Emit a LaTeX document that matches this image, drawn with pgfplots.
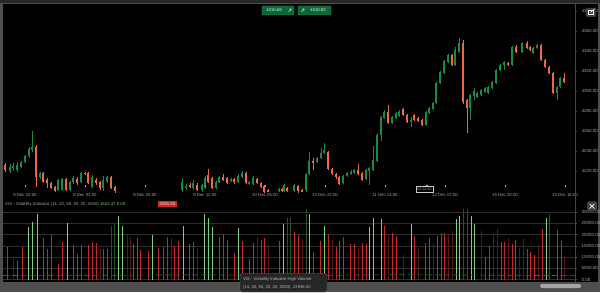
\documentclass[border=0pt]{standalone}
\usepackage{fontspec}
\setmainfont{Liberation Sans}
\usepackage{pgfplots}
\usepackage{pgfplotstable}
\pgfplotsset{compat=1.18}
\definecolor{frame}{RGB}{78,78,78}
\definecolor{axgray}{RGB}{70,70,70}
\definecolor{lbl}{RGB}{165,165,165}
\definecolor{cgreen}{RGB}{24,138,72}
\definecolor{corange}{RGB}{240,105,62}
\definecolor{vgreen}{RGB}{125,208,125}
\definecolor{vdkgreen}{RGB}{38,84,38}
\definecolor{vred}{RGB}{196,42,42}
\definecolor{vdkred}{RGB}{88,24,24}
\definecolor{btn}{RGB}{12,102,56}
\definecolor{btnb}{RGB}{34,140,82}
\definecolor{gridc}{RGB}{46,46,46}

\pgfplotstableread{
x o h l c
10 4220 4227 4218 4224
13 4224 4228 4220 4225
17 4221 4229 4219 4226
21 4224 4230 4223 4229
25 4229 4236 4228 4235
29 4235 4244 4233 4242
32 4241 4260 4239 4244
40 4214 4219 4212 4218
58 4201 4212 4200 4211
62 4201 4213 4200 4212
70 4201 4210 4200 4209
73 4209 4215 4207 4213
81 4209 4219 4208 4218
92 4204 4216 4203 4214
103 4203 4215 4200 4211
107 4209 4215 4208 4214
182 4201 4213 4199 4209
186 4203 4207 4201 4205
193 4203 4211 4201 4208
202 4201 4207 4199 4206
205 4203 4215 4202 4213
216 4203 4210 4202 4209
219 4209 4215 4208 4214
231 4210 4213 4209 4212
238 4209 4217 4208 4215
242 4214 4220 4213 4218
249 4207 4210 4206 4209
253 4207 4215 4206 4213
279 4200 4203 4199 4202
284 4200 4207 4199 4206
294 4200 4207 4199 4206
306 4201 4218 4199 4217
309 4217 4239 4216 4230
317 4229 4234 4228 4233
321 4233 4243 4232 4238
324 4238 4248 4237 4241
343 4208 4216 4207 4215
347 4215 4219 4214 4218
351 4217 4221 4216 4219
354 4218 4222 4217 4221
366 4212 4222 4211 4221
369 4220 4224 4206 4223
373 4221 4245 4220 4231
377 4230 4258 4229 4256
381 4256 4275 4250 4274
384 4273 4281 4272 4279
392 4268 4275 4267 4274
396 4273 4279 4272 4278
399 4275 4281 4274 4279
411 4269 4274 4264 4271
426 4266 4280 4265 4279
429 4278 4284 4277 4283
433 4282 4289 4281 4288
436 4288 4309 4287 4308
440 4308 4320 4307 4319
444 4318 4331 4317 4330
448 4329 4337 4328 4336
455 4326 4344 4325 4341
459 4339 4353 4338 4348
470 4283 4297 4271 4296
474 4295 4303 4291 4300
477 4294 4299 4293 4298
481 4296 4302 4295 4301
485 4299 4304 4298 4303
488 4298 4305 4297 4304
492 4303 4310 4302 4309
496 4308 4322 4307 4321
500 4321 4327 4320 4326
504 4326 4330 4321 4329
512 4326 4345 4325 4344
522 4339 4349 4338 4348
533 4338 4344 4337 4343
537 4343 4347 4342 4346
557 4298 4305 4291 4304
560 4304 4314 4303 4313
}\bull

\pgfplotstableread{
x o h l c
5 4226 4228 4219 4221
36 4244 4246 4204 4214
43 4218 4219 4208 4209
47 4211 4213 4203 4208
51 4208 4209 4202 4203
55 4204 4205 4199 4200
66 4212 4213 4200 4201
77 4212 4214 4206 4208
85 4218 4219 4216 4217
88 4218 4219 4207 4208
96 4211 4213 4206 4208
100 4209 4210 4201 4203
111 4214 4215 4202 4203
115 4204 4205 4198 4200
190 4206 4208 4203 4204
197 4206 4208 4200 4201
208 4216 4222 4208 4209
212 4213 4214 4202 4203
223 4214 4217 4210 4211
227 4213 4214 4207 4208
234 4212 4213 4207 4209
246 4218 4219 4207 4208
257 4212 4213 4207 4208
261 4208 4209 4203 4204
264 4205 4206 4198 4199
268 4201 4202 4199 4200
282 4202 4203 4199 4200
287 4203 4204 4199 4200
298 4205 4206 4198 4200
302 4201 4202 4199 4200
313 4230 4233 4221 4228
328 4239 4240 4221 4222
332 4222 4223 4216 4217
336 4217 4218 4212 4214
339 4214 4215 4206 4207
358 4221 4227 4216 4217
362 4218 4219 4210 4211
388 4279 4286 4267 4268
403 4282 4283 4275 4276
407 4276 4277 4268 4269
414 4276 4277 4270 4271
418 4273 4274 4269 4270
422 4271 4272 4265 4266
452 4336 4337 4325 4326
463 4348 4351 4287 4289
467 4291 4292 4258 4283
508 4328 4329 4325 4326
516 4344 4346 4338 4339
527 4348 4350 4342 4343
530 4344 4345 4340 4341
541 4346 4347 4330 4331
545 4331 4332 4323 4324
549 4324 4325 4317 4318
553 4318 4319 4297 4298
564 4313 4318 4308 4309
}\bear

\pgfplotstableread{
x v
7 14300
17 8250
22 14300
43 18300
47 13400
51 19600
58 6800
62 16800
73 15350
77 11500
81 15350
88 15200
92 16800
96 16100
103 13700
107 13700
133 15900
137 18300
140 13000
148 12700
158 14160
163 14450
167 19000
174 14900
178 17100
189 15600
193 16800
219 18900
223 20350
227 17400
234 11950
242 17100
249 9000
253 16370
261 17400
264 18600
279 17100
294 21240
298 20000
313 12400
320 17100
328 20350
336 14450
339 17100
343 18900
350 15600
354 15600
362 16370
366 15600
384 23750
392 20800
396 19300
414 19300
425 16370
429 18600
437 19300
441 20800
444 20800
485 10000
489 14900
501 16800
504 16800
512 15900
515 17400
527 13400
530 12400
534 10900
542 22250
557 22000
561 17100
}\vredt

\pgfplotstableread{
x v
13 9300
100 13400
127 20000
130 18900
171 18600
197 14160
257 18900
268 15200
302 17850
332 17400
358 14160
388 20000
403 10900
418 14900
433 16370
448 20000
452 21500
481 21500
493 20000
497 22250
508 18600
519 14160
523 17850
538 15350
564 9735
}\vdkredt

\pgfplotstableread{
x v
28 23450
32 25660
37 28900
67 25200
118 28200
122 23750
152 20000
183 23750
204 29300
208 27400
212 23450
238 23000
283 24500
309 29300
324 23750
369 23300
373 27400
381 26700
411 24780
456 26700
459 28200
471 28200
474 24780
546 27100
}\vgreent

\pgfplotstableread{
x v
111 23750
114 25200
287 27100
290 27400
306 31500
463 31500
467 31500
549 29200
}\vdkgreent

\begin{document}
\begin{tikzpicture}[x=1pt,y=1pt]
\useasboundingbox (0,0) rectangle (600,292);
\fill[frame] (0,0) rectangle (600,292);
\fill[black] (3,10) rectangle (598,288);
\fill[black!50!frame] (0,289) rectangle (600,292);
\fill[gray!70] (540,4) [rounded corners=1.5pt] rectangle (581,8);

% main price panel
\begin{axis}[at={(3,92)}, anchor=south west, scale only axis,
  width=572pt, height=196pt,
  xmin=3, xmax=575, ymin=4191, ymax=4387,
  axis line style={draw=none},
  scaled ticks=false,
  ytick={4220,4240,4260,4280,4300,4320,4340,4360,4380},
  yticklabels={4220.00,4240.00,4260.00,4280.00,4300.00,4320.00,4340.00,4360.00,4380.00},
  ytick pos=right, yticklabel pos=right,
  tick align=outside, major tick length=2pt,
  y tick style={draw=axgray, line width=0.5pt},
  y tick label style={font=\fontsize{4.5}{5}\selectfont, text=lbl, anchor=west, xshift=1pt},
  xtick={25,85,145,205,265,325,385,445,505,565},
  xticklabels={5 Dec 10:00,8 Dec 03:00,8 Dec 20:00,9 Dec 12:00,10 Dec 05:00,10 Dec 22:00,11 Dec 14:00,12 Dec 07:00,15 Dec 00:00,15 Dec 16:00},
  x tick style={draw=none},
  xtick pos=bottom,
  x tick label style={font=\fontsize{4.3}{5}\selectfont, text=lbl, anchor=center, yshift=7pt},
]
% wicks
\addplot[draw=none, mark=none, forget plot, error bars/.cd, y dir=both, y explicit,
  error mark=none, error bar style={line width=0.6pt, draw=cgreen}]
  table[x=x, y expr={(\thisrow{h}+\thisrow{l})/2}, y error expr={(\thisrow{h}-\thisrow{l})/2}] {\bull};
\addplot[draw=none, mark=none, forget plot, error bars/.cd, y dir=both, y explicit,
  error mark=none, error bar style={line width=0.6pt, draw=corange}]
  table[x=x, y expr={(\thisrow{h}+\thisrow{l})/2}, y error expr={(\thisrow{h}-\thisrow{l})/2}] {\bear};
% bodies
\addplot[draw=none, mark=none, forget plot, error bars/.cd, y dir=both, y explicit,
  error mark=none, error bar style={line width=2.4pt, draw=cgreen}]
  table[x=x, y expr={(\thisrow{o}+\thisrow{c})/2}, y error expr={max(abs(\thisrow{c}-\thisrow{o})/2,0.5)}] {\bull};
\addplot[draw=none, mark=none, forget plot, error bars/.cd, y dir=both, y explicit,
  error mark=none, error bar style={line width=2.4pt, draw=corange}]
  table[x=x, y expr={(\thisrow{o}+\thisrow{c})/2}, y error expr={max(abs(\thisrow{c}-\thisrow{o})/2,0.5)}] {\bear};
\end{axis}

% volume panel
\begin{axis}[at={(3,10)}, anchor=south west, scale only axis,
  width=572pt, height=82pt,
  xmin=3, xmax=575, ymin=-4425, ymax=31860,
  axis line style={draw=none},
  scaled ticks=false,
  xtick=\empty,
  ytick={0,5000,10000,15000,20000,25000,30000},
  yticklabels={0.00,5000.00,10000.00,15000.00,20000.00,25000.00,30000.00},
  ytick pos=right, yticklabel pos=right,
  tick align=outside, major tick length=2pt,
  y tick style={draw=axgray, line width=0.5pt},
  y tick label style={font=\fontsize{4.5}{5}\selectfont, text=lbl, anchor=west, xshift=1pt},
  ymajorgrids, grid style={draw=gridc, line width=0.5pt},
]
\addplot[ycomb, vdkred, line width=1.0pt] table[x=x,y=v] {\vdkredt};
\addplot[ycomb, vdkgreen, line width=1.0pt] table[x=x,y=v] {\vdkgreent};
\addplot[ycomb, vred, line width=1.0pt] table[x=x,y=v] {\vredt};
\addplot[ycomb, vgreen, line width=1.0pt] table[x=x,y=v] {\vgreent};
\addplot[color={rgb,255:red,46;green,110;blue,46}, line width=0.7pt, dash pattern=on 6pt off 3pt]
  coordinates {(3,1900) (100,2000) (200,2100) (300,1900) (400,2200) (500,2000) (575,1800)};
\end{axis}

% price axis line
\draw[axgray, line width=0.6pt] (575,10) -- (575,288);
% x tick marks
\foreach \t in {25,85,145,205,265,325,385,445,505,565}
  \draw[lbl, line width=0.5pt] (\t,104.5) -- (\t,107);

% header of volume panel
\node[anchor=west, inner sep=0pt, font=\fontsize{4.3}{5}\selectfont, text=lbl] at (5,88)
  {VIX - Volatility Indicator (14, 20, 50, 20, 20, 2000) \textcolor{vgreen}{1522.47} \textcolor{vgreen}{0.00}};
\node[fill=vred, inner xsep=1.5pt, inner ysep=1pt, font=\fontsize{4.3}{5}\selectfont, text=white!85!red] at (167.5,88) {2861.00};

% top buttons
\draw[fill=btn, draw=btnb, line width=0.4pt, rounded corners=1pt] (262,277) rectangle (294,286);
\draw[fill=btn, draw=btnb, line width=0.4pt, rounded corners=1pt] (298,277) rectangle (331,286);
\node[font=\fontsize{4.2}{5}\selectfont, text=white!85!green, inner sep=0pt] at (274,281.5) {4310.68};
\node[font=\fontsize{4.2}{5}\selectfont, text=white!85!green, inner sep=0pt] at (318,281.5) {4310.83};
\draw[white!80!green, line width=0.5pt] (288.5,280) -- (291,283) (289.5,283) -- (291,283) -- (291,281.5);
\draw[white!80!green, line width=0.5pt] (301.5,280) -- (304,283) (302.5,283) -- (304,283) -- (304,281.5);

% countdown
\draw[lbl!60, fill=black, line width=0.4pt] (416,99.5) rectangle (433,105.5);
\node[font=\fontsize{3.6}{4}\selectfont, text=lbl, inner sep=0pt] at (424.5,102.5) {02:16:45};
\fill[lbl!60] (425.5,105.5) -- (427,107.5) -- (428.5,105.5) -- cycle;

% icons
\fill[black!75!white, rounded corners=1pt] (586,275) rectangle (596,284);
\draw[white, line width=0.5pt] (588.5,277.5) rectangle (593,282);
\draw[white, line width=0.6pt] (590.5,279.5) -- (594.5,283);
\fill[black!75!white, rounded corners=1pt] (587,81) rectangle (597,90.5);
\draw[white, line width=0.7pt] (589.5,83.5) -- (594.5,88) (589.5,88) -- (594.5,83.5);

% tooltip
\draw[fill=black!85!white, draw=black!60!white, line width=0.4pt, rounded corners=1.5pt] (240,0) rectangle (327,18.5);
\node[anchor=west, inner sep=0pt, font=\fontsize{4.2}{5}\selectfont, text=lbl!80!white] at (243,13) {VIX - Volatility Indicator High Volume};
\node[anchor=west, inner sep=0pt, font=\fontsize{4.2}{5}\selectfont, text=lbl!80!white] at (243,4.5) {(14, 20, 50, 20, 20, 2000): 22936.00};
\end{tikzpicture}
\end{document}
